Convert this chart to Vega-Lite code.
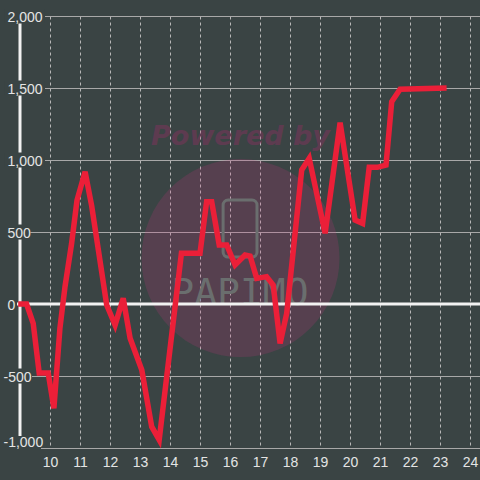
{
  "$schema": "https://vega.github.io/schema/vega-lite/v6.json",
  "width": 463,
  "height": 432,
  "autosize": {"type": "none"},
  "padding": {"left": 17, "top": 16, "right": 0, "bottom": 32},
  "background": "#3a4444",
  "config": {
    "view": {"stroke": null},
    "axis": {"labelFont": "Liberation Sans", "labelFontSize": 14, "labelColor": "#e4e4e4", "title": null},
    "axisX": {
      "values": [10, 11, 12, 13, 14, 15, 16, 17, 18, 19, 20, 21, 22, 23, 24],
      "tickCount": 16, "format": "d", "grid": false,
      "domain": false, "ticks": false, "tickSize": 0, "labelPadding": 7,
      "labelOverlap": false, "labelFlush": false, "labelBound": false, "labelSeparation": 0
    }
  },
  "datasets": {
    "series": [
      {"x": 8.94, "y": 0}, {"x": 9.22, "y": 0}, {"x": 9.44, "y": -134}, {"x": 9.64, "y": -480},
      {"x": 9.94, "y": -480}, {"x": 10.13, "y": -724}, {"x": 10.33, "y": -170}, {"x": 10.5, "y": 120},
      {"x": 10.72, "y": 420}, {"x": 10.9, "y": 720}, {"x": 11.17, "y": 919}, {"x": 11.39, "y": 680},
      {"x": 11.89, "y": -7}, {"x": 12.17, "y": -146}, {"x": 12.44, "y": 40}, {"x": 12.67, "y": -238},
      {"x": 13.06, "y": -458}, {"x": 13.39, "y": -852}, {"x": 13.64, "y": -944}, {"x": 14.38, "y": 352},
      {"x": 15.0, "y": 352}, {"x": 15.22, "y": 710}, {"x": 15.39, "y": 710}, {"x": 15.64, "y": 410},
      {"x": 15.89, "y": 410}, {"x": 16.17, "y": 271}, {"x": 16.5, "y": 340}, {"x": 16.67, "y": 333},
      {"x": 16.89, "y": 178}, {"x": 17.22, "y": 190}, {"x": 17.44, "y": 132}, {"x": 17.67, "y": -273},
      {"x": 17.89, "y": -65}, {"x": 18.39, "y": 931}, {"x": 18.64, "y": 1012}, {"x": 19.17, "y": 491},
      {"x": 19.67, "y": 1259}, {"x": 20.17, "y": 583}, {"x": 20.42, "y": 560}, {"x": 20.64, "y": 949},
      {"x": 20.91, "y": 949}, {"x": 21.2, "y": 965}, {"x": 21.39, "y": 1405}, {"x": 21.67, "y": 1491},
      {"x": 23.22, "y": 1500}
    ],
    "ticks": [{"v": 2000}, {"v": 1500}, {"v": 1000}, {"v": 500}, {"v": 0}, {"v": -500}, {"v": -1000}],
    "one": [{"k": 1}]
  },
  "layer": [
    {
      "layer": [
        {
          "data": {"name": "one"},
          "mark": {"type": "circle", "size": 39200, "fill": "#c8307f", "fillOpacity": 0.2, "strokeWidth": 0},
          "encoding": {"x": {"datum": 16.35}, "y": {"datum": 319}}
        },
        {
          "data": {"name": "one"},
          "mark": {"type": "text", "text": "Powered by", "font": "DejaVu Sans", "fontSize": 27, "fontWeight": "bold", "fontStyle": "italic", "fill": "#b0286e", "opacity": 0.3, "align": "center", "baseline": "middle"},
          "encoding": {"x": {"datum": 16.35}, "y": {"datum": 1158}}
        },
        {
          "data": {"name": "one"},
          "mark": {"type": "rect", "filled": false, "stroke": "#6a6e6e", "strokeWidth": 3, "cornerRadius": 5},
          "encoding": {"x": {"datum": 15.77}, "x2": {"datum": 16.9}, "y": {"datum": 326}, "y2": {"datum": 722}}
        },
        {
          "data": {"name": "one"},
          "mark": {"type": "text", "text": "PAPIMO", "font": "DejaVu Sans Mono", "fontSize": 38, "fill": "#6a6e6e", "align": "center", "baseline": "middle"},
          "encoding": {"x": {"datum": 16.33}, "y": {"datum": 72}}
        },
        {
          "data": {"name": "one"},
          "mark": {"type": "rule", "color": "#f2f2f2", "strokeWidth": 3},
          "encoding": {"y": {"datum": 0}}
        },
        {
          "data": {"name": "one"},
          "mark": {"type": "rule", "color": "#f2f2f2", "strokeWidth": 3},
          "encoding": {"x": {"datum": 9}}
        },
        {
          "data": {"name": "series"},
          "mark": {"type": "line", "color": "#eb1f38", "strokeWidth": 5.5},
          "encoding": {
            "x": {
              "field": "x", "type": "quantitative",
              "scale": {"domain": [8.9, 24.333], "nice": false, "zero": false},
              "axis": {
                "values": [10, 11, 12, 13, 14, 15, 16, 17, 18, 19, 20, 21, 22, 23, 24],
                "tickCount": 16, "format": "d", "grid": true, "gridDash": [3, 3], "gridColor": "#b8b8b8", "gridWidth": 1,
                "domain": false, "ticks": false, "tickSize": 0, "labelPadding": 7,
                "labelFlush": false, "labelOverlap": false, "labelBound": false, "title": null
              }
            },
            "y": {
              "field": "y", "type": "quantitative",
              "scale": {"domain": [-1000, 2000], "nice": false, "zero": false},
              "axis": {
                "values": [-1000, -750, -500, -250, 0, 250, 500, 750, 1000, 1250, 1500, 1750, 2000],
                "grid": true, "gridColor": "#a8a8a8", "gridWidth": 1, "labels": false, "domain": false,
                "ticks": false, "tickSize": 0, "title": null, "zindex": 0
              }
            }
          }
        }
      ]
    },
    {
      "data": {"name": "ticks"},
      "layer": [
        {
          "transform": [{"filter": "datum.v >= 1000"}],
          "mark": {"type": "bar", "orient": "horizontal", "height": 15, "color": "#3a4444"},
          "encoding": {
            "x": {"datum": 8.5},
            "x2": {"datum": 9.8333},
            "y": {
              "field": "v", "type": "quantitative",
              "scale": {"domain": [-965.28, 1965.28], "nice": false, "zero": false},
              "axis": {
                "orient": "left",
                "values": [-1000, -500, 0, 500, 1000, 1500, 2000],
                "grid": false, "domain": false, "ticks": false, "tickSize": 0,
                "labelAlign": "left",
                "labelPadding": {"condition": {"test": "datum.value < 0", "value": 14}, "value": 10},
                "labelBaseline": {"condition": {"test": "datum.value == -1000", "value": "bottom"}, "value": "middle"},
                "labelOffset": 1.5,
                "labelExpr": "datum.value < 0 ? '-' + format(-datum.value, ',') : format(datum.value, ',')",
                "labelOverlap": false,
                "zindex": 1,
                "title": null
              }
            }
          }
        },
        {
          "transform": [{"filter": "datum.v == 500"}],
          "mark": {"type": "bar", "orient": "horizontal", "height": 15, "color": "#3a4444"},
          "encoding": {"x": {"datum": 8.5333}, "x2": {"datum": 9.35}, "y": {"field": "v", "type": "quantitative"}}
        },
        {
          "transform": [{"filter": "datum.v == -500"}],
          "mark": {"type": "bar", "orient": "horizontal", "height": 15, "color": "#3a4444"},
          "encoding": {"x": {"datum": 8.4}, "x2": {"datum": 9.4}, "y": {"field": "v", "type": "quantitative"}}
        },
        {
          "transform": [{"filter": "datum.v == -1000"}],
          "mark": {"type": "bar", "orient": "horizontal", "height": 24, "color": "#3a4444"},
          "encoding": {"x": {"datum": 8.3833}, "x2": {"datum": 9.7}, "y": {"field": "v", "type": "quantitative"}}
        }
      ]
    }
  ],
  "resolve": {"scale": {"y": "independent"}, "axis": {"y": "independent"}}
}
